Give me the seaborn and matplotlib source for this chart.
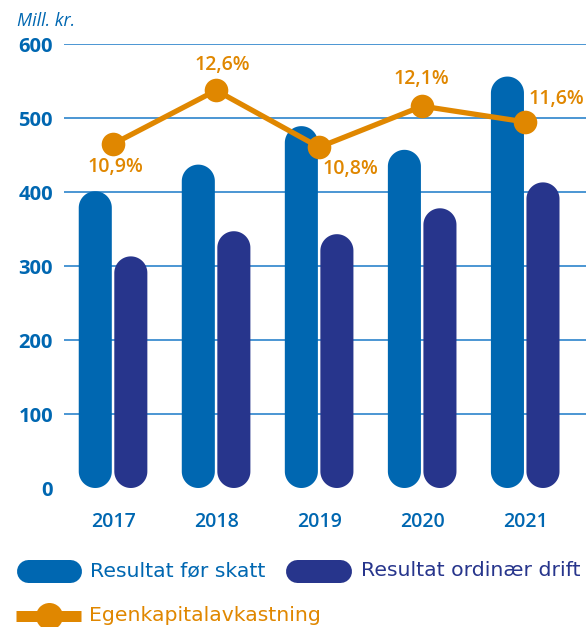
import numpy as np
import pandas as pd
import matplotlib
matplotlib.use("Agg")
import matplotlib.pyplot as plt
import seaborn as sns
from matplotlib.patches import Polygon
from matplotlib.lines import Line2D

# ---- data ----
years = ["2017", "2018", "2019", "2020", "2021"]
resultat_for_skatt = [401, 437, 489, 457, 556]
resultat_ordinaer_drift = [313, 347, 343, 378, 413]
egenkapitalavkastning = [10.9, 12.6, 10.8, 12.1, 11.6]
ek_labels = ["10,9%", "12,6%", "10,8%", "12,1%", "11,6%"]
series_names = ["Resultat før skatt", "Resultat ordinær drift", "Egenkapitalavkastning"]
y_ticks = [0, 100, 200, 300, 400, 500, 600]

BLUE = "#0067b1"
NAVY = "#27358c"
ORANGE = "#e08700"
GRID = "#3d8ed0"

sns.set_style("white")
plt.rcParams["font.family"] = ["Open Sans", "DejaVu Sans"]

W, H = 586, 627
fig = plt.figure(figsize=(W / 100, H / 100), dpi=100)
ax_l, ax_b, ax_r, ax_t = 64, 488, 586, 44
ax = fig.add_axes([ax_l / W, 1 - ax_b / H, (ax_r - ax_l) / W, (ax_b - ax_t) / H])

df = pd.DataFrame({
    "year": years * 2,
    "value": resultat_for_skatt + resultat_ordinaer_drift,
    "series": [series_names[0]] * len(years) + [series_names[1]] * len(years),
})
sns.barplot(data=df, x="year", y="value", hue="series", palette=[BLUE, NAVY],
            width=0.69, gap=0.07, saturation=1, legend=False, ax=ax, zorder=2)

xlim = (-0.476, 4.59)
ylim = (0, 600)
ax.set_xlim(*xlim)
ax.set_ylim(*ylim)

# turn the seaborn bars into pills (semicircular caps in screen space)
px_x = (ax_r - ax_l) / (xlim[1] - xlim[0])
px_y = (ax_b - ax_t) / (ylim[1] - ylim[0])
aspect = px_x / px_y
for p in list(ax.patches):
    x, y = p.get_x(), p.get_y()
    w, h = p.get_width(), p.get_height()
    fc = p.get_facecolor()
    p.remove()
    r = w / 2
    ry = r * aspect
    cx = x + r
    th_top = np.linspace(0, np.pi, 60)
    th_bot = np.linspace(np.pi, 2 * np.pi, 60)
    top = np.column_stack([cx + r * np.cos(th_top), y + h - ry + ry * np.sin(th_top)])
    bot = np.column_stack([cx + r * np.cos(th_bot), y + ry + ry * np.sin(th_bot)])
    poly = Polygon(np.vstack([top, bot]), closed=True, fc=fc, ec="none", zorder=2)
    ax.add_patch(poly)

for t in y_ticks[1:]:
    ax.axhline(t, color=GRID, lw=1.3, zorder=1)

ax.set_yticks(y_ticks)
ax.set_yticklabels([str(t) for t in y_ticks], fontsize=14.5, fontweight="bold", color=BLUE)
ax.set_xticks(range(len(years)))
ax.set_xticklabels(years, fontsize=14, fontweight="semibold", color=BLUE)
ax.tick_params(axis="y", length=0, pad=8)
ax.tick_params(axis="x", length=0, pad=17)
ax.set_xlabel("")
ax.set_ylabel("")
for s in ax.spines.values():
    s.set_visible(False)

# line on secondary axis
ax2 = ax.twinx()
ax2.set_ylim(0, 14.07)
xs = np.arange(len(years))
sns.lineplot(x=xs, y=egenkapitalavkastning, ax=ax2, color=ORANGE, lw=3.8,
             marker="o", markersize=17, markeredgewidth=0, zorder=5)
ax2.set_xlim(*xlim)
ax2.axis("off")
offsets = [(2, -23), (6, 25), (31, -22), (-1, 27), (31, 23)]
for xi, v, lab, off in zip(xs, egenkapitalavkastning, ek_labels, offsets):
    ax2.annotate(lab, (xi, v), xytext=off, textcoords="offset pixels",
                 ha="center", va="center", fontsize=14, fontweight="semibold",
                 color=ORANGE, annotation_clip=False)

fig.text(17 / W, 1 - 21 / H, "Mill. kr.", fontsize=13, style="italic",
         color=BLUE, ha="left", va="center")

# legend (manual)
def fx(px):
    return px / W

def fy(py):
    return 1 - py / H

LEG_FONT = ["DejaVu Sans"]
pill_lw = 23 * 72 / 100
ry_ = 570.5
fig.add_artist(Line2D([fx(16 + 11.5), fx(81 - 11.5)], [fy(ry_), fy(ry_)], lw=pill_lw,
                      color=BLUE, solid_capstyle="round"))
fig.text(fx(90), fy(ry_), series_names[0], fontsize=14.7, color=BLUE, ha="left",
         va="center", family=LEG_FONT)
fig.add_artist(Line2D([fx(286 + 11.5), fx(351 - 11.5)], [fy(ry_), fy(ry_)], lw=pill_lw,
                      color=NAVY, solid_capstyle="round"))
fig.text(fx(361), fy(ry_), series_names[1], fontsize=14.7, color=NAVY, ha="left",
         va="center", family=LEG_FONT)

oy = 615.5
fig.add_artist(Line2D([fx(16), fx(81)], [fy(oy), fy(oy)], lw=11 * 0.72,
                      color=ORANGE, solid_capstyle="butt"))
fig.add_artist(Line2D([fx(48.5)], [fy(oy)], marker="o", markersize=27 * 0.72,
                      markeredgewidth=0, color=ORANGE, lw=0))
fig.text(fx(89), fy(oy), series_names[2], fontsize=14.7, color=ORANGE, ha="left",
         va="center", family=LEG_FONT)

fig.savefig("out.png", dpi=100)
